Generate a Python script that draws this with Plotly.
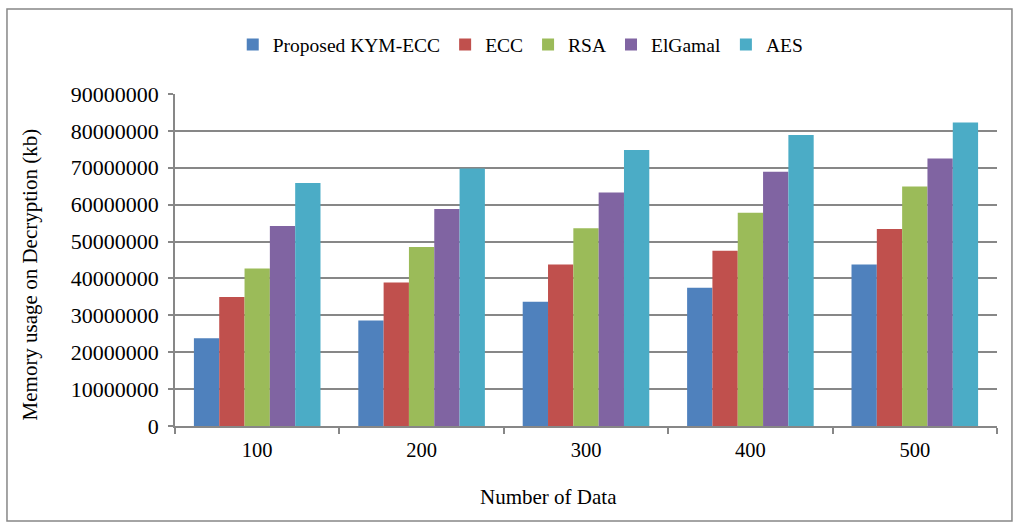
import plotly.graph_objects as go

# Memory usage on decryption per number of data items
categories = ["100", "200", "300", "400", "500"]
kym_ecc = [23800000, 28600000, 33700000, 37500000, 43800000]
ecc = [35000000, 38900000, 43800000, 47500000, 53400000]
rsa = [42700000, 48500000, 53600000, 57800000, 64900000]
elgamal = [54200000, 58800000, 63300000, 68900000, 72500000]
aes = [65900000, 69800000, 74800000, 78900000, 82300000]
y_ticks = [0, 10000000, 20000000, 30000000, 40000000, 50000000,
           60000000, 70000000, 80000000, 90000000]

series = [
    ("Proposed KYM-ECC", kym_ecc, "#4F81BD"),
    ("ECC", ecc, "#C0504D"),
    ("RSA", rsa, "#9BBB59"),
    ("ElGamal", elgamal, "#8064A2"),
    ("AES", aes, "#4BACC6"),
]

FONT = "Liberation Serif, Times New Roman, serif"
GRID = "#878787"

fig = go.Figure()
for name, vals, color in series:
    fig.add_trace(go.Bar(x=categories, y=vals, name=name,
                         marker=dict(color=color, line=dict(width=0))))

fig.update_layout(
    width=1015, height=523,
    margin=dict(l=175, r=18, t=94, b=97),
    paper_bgcolor="white", plot_bgcolor="white",
    barmode="group", bargap=0.23, bargroupgap=0,
    font=dict(family=FONT, size=20, color="black"),
    legend=dict(orientation="h", x=0.42, y=1.148, xanchor="center", yanchor="middle",
                font=dict(size=19.5), itemwidth=30, tracegroupgap=0),
    showlegend=True,
)

fig.update_xaxes(
    type="category", showgrid=False,
    showline=True, linecolor=GRID, linewidth=1.6,
    ticks="outside", tickson="boundaries", ticklen=6, tickcolor=GRID, tickwidth=1.6,
    tickfont=dict(size=20.5), ticklabelstandoff=5,
)
fig.update_yaxes(
    range=[0, 90000000], tickvals=y_ticks, ticktext=[str(v) for v in y_ticks],
    showgrid=True, gridcolor=GRID, gridwidth=1.6,
    showline=True, linecolor=GRID, linewidth=1.6,
    ticks="outside", ticklen=5, tickcolor=GRID, tickwidth=1.6,
    tickfont=dict(size=22), ticklabelstandoff=5, zeroline=False,
)

# axis titles
fig.add_annotation(text="Number of Data", xref="paper", yref="paper",
                   x=0.454, y=-0.215, showarrow=False, font=dict(size=21),
                   xanchor="center", yanchor="middle")
fig.add_annotation(text="Memory usage on Decryption (kb)", xref="paper", yref="paper",
                   x=-0.177, y=0.455, showarrow=False, textangle=-90, font=dict(size=21),
                   xanchor="center", yanchor="middle")

# outer chart frame
fig.add_shape(type="rect", xref="paper", yref="paper",
              x0=-0.2044, x1=1.0182, y0=-0.286, y1=1.256,
              line=dict(color=GRID, width=1.5), fillcolor="rgba(0,0,0,0)", layer="below")

fig.write_html("out.html")
